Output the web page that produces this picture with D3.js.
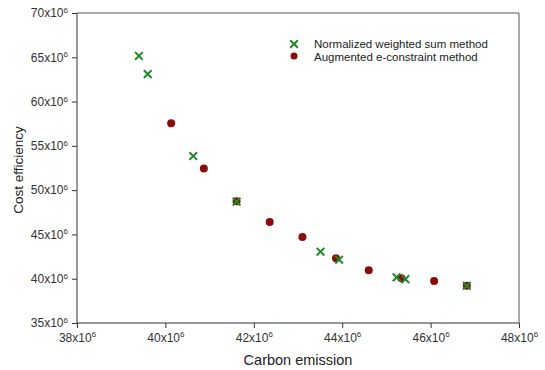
<!DOCTYPE html>
<html>
<head>
<meta charset="utf-8">
<script src="https://cdn.jsdelivr.net/npm/d3@7"></script>
<style>
  body { margin: 0; background: #fff; }
  svg { font-family: "Liberation Sans", Arial, sans-serif; }
</style>
</head>
<body>
<div id="chart"></div>
<script>
// Values in units of 10^6
const weightedX = [39.40, 39.60, 40.63, 41.61, 43.51, 43.93, 45.23, 45.43, 46.82];
const weightedY = [65.15, 63.10, 53.85, 48.70, 43.05, 42.15, 40.15, 39.95, 39.20];

const augmentedX = [40.13, 40.87, 41.61, 42.36, 43.10, 43.86, 44.60, 45.34, 46.08, 46.82];
const augmentedY = [57.55, 52.45, 48.75, 46.40, 44.70, 42.30, 40.95, 40.05, 39.75, 39.20];

const xTicks = [38, 40, 42, 44, 46, 48];
const yTicks = [35, 40, 45, 50, 55, 60, 65, 70];

const seriesNames = ['Normalized weighted sum method', 'Augmented e-constraint method'];

const W = 545, H = 370;
const margin = { top: 13, right: 26, bottom: 47, left: 77 };
const width = W - margin.left - margin.right;
const height = H - margin.top - margin.bottom;

const green = '#1f8a2a';
const red = '#8b0a0a';

const svg = d3.select('#chart').append('svg').attr('width', W).attr('height', H);
const g = svg.append('g').attr('transform', `translate(${margin.left},${margin.top})`);

const x = d3.scaleLinear().domain([38, 48]).range([0, width]);
const y = d3.scaleLinear().domain([35, 70]).range([height, 0]);

// frame (top and right)
g.append('path')
  .attr('d', `M0,0H${width}V${height}`)
  .attr('fill', 'none')
  .attr('stroke', '#555')
  .attr('stroke-width', 1);

function tickLabel(sel) {
  sel.each(function (d) {
    const t = d3.select(this);
    t.text(null);
    t.append('tspan').text(`${d}x10`);
    t.append('tspan').attr('font-size', '8px').attr('dy', '-0.55em').text('6');
  });
}

const xAxis = g.append('g')
  .attr('transform', `translate(0,${height})`)
  .call(d3.axisBottom(x).tickValues(xTicks).tickSize(5).tickPadding(5));
xAxis.selectAll('text').call(tickLabel);

const yAxis = g.append('g')
  .call(d3.axisLeft(y).tickValues(yTicks).tickSize(5).tickPadding(4));
yAxis.selectAll('text').call(tickLabel);

g.selectAll('.domain, .tick line').attr('stroke', '#333');
g.selectAll('.tick text')
  .attr('fill', '#333')
  .attr('font-size', '12px')
  .attr('font-family', '"Liberation Sans", Arial, sans-serif');
xAxis.selectAll('.domain').attr('d', `M0,0H${width}`);
yAxis.selectAll('.domain').attr('d', `M0,0V${height}`);

// axis titles
g.append('text')
  .attr('x', width / 2)
  .attr('y', height + 42)
  .attr('text-anchor', 'middle')
  .attr('font-size', '14.5px')
  .attr('fill', '#222')
  .text('Carbon emission');

g.append('text')
  .attr('transform', 'rotate(-90)')
  .attr('x', -height / 2 - 2)
  .attr('y', -54)
  .attr('text-anchor', 'middle')
  .attr('font-size', '13.5px')
  .attr('fill', '#222')
  .text('Cost efficiency');

const cross = d3.symbol().type(d3.symbolX).size(40);

// augmented dots
g.selectAll('circle.aug')
  .data(augmentedX.map((v, i) => [v, augmentedY[i]]))
  .join('circle')
  .attr('class', 'aug')
  .attr('cx', d => x(d[0]))
  .attr('cy', d => y(d[1]))
  .attr('r', 4)
  .attr('fill', red);

// weighted crosses
g.selectAll('path.ws')
  .data(weightedX.map((v, i) => [v, weightedY[i]]))
  .join('path')
  .attr('class', 'ws')
  .attr('d', cross)
  .attr('transform', d => `translate(${x(d[0])},${y(d[1])})`)
  .attr('fill', 'none')
  .attr('stroke', green)
  .attr('stroke-width', 2);

// legend
const lg = g.append('g').attr('transform', `translate(${x(42.91)},${y(66.5)})`);
lg.append('path').attr('d', cross).attr('fill', 'none').attr('stroke', green).attr('stroke-width', 2);
lg.append('circle').attr('cx', 0).attr('cy', 12).attr('r', 3.5).attr('fill', red);
lg.selectAll('text.lg')
  .data(seriesNames)
  .join('text')
  .attr('class', 'lg')
  .attr('x', 20)
  .attr('y', (d, i) => i * 12.5 + 4)
  .attr('font-size', '11.5px')
  .attr('fill', '#222')
  .text(d => d);
</script>
</body>
</html>
